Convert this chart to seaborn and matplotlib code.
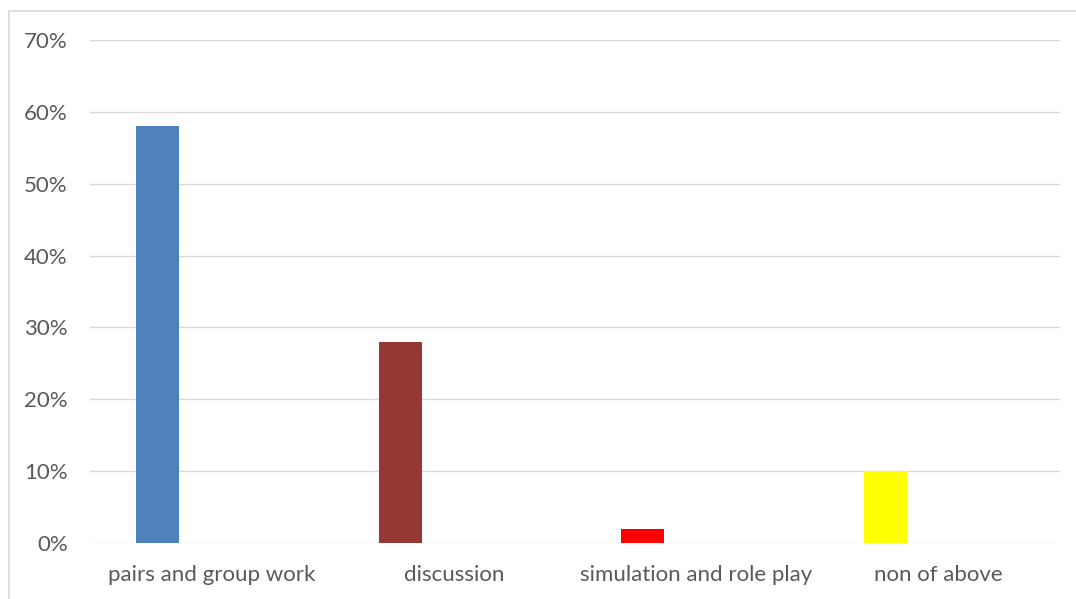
import matplotlib
matplotlib.use("Agg")
import matplotlib.pyplot as plt
import matplotlib.patches as mpatches
from matplotlib.ticker import PercentFormatter
import seaborn as sns

categories = ["pairs and group work", "discussion", "simulation and role play", "non of above"]
values = [0.58, 0.28, 0.02, 0.10]
colors = ["#4F81BD", "#953735", "#FF0000", "#FFFF00"]
yticks = [0.0, 0.1, 0.2, 0.3, 0.4, 0.5, 0.6, 0.7]

sns.set_theme(style="white")
plt.rcParams["font.family"] = ["Lato", "DejaVu Sans"]

fig = plt.figure(figsize=(10.76, 5.99), dpi=100)
ax = fig.add_axes([90 / 1076, 56 / 599, 970 / 1076, 503 / 599])

bar_w = 0.177
offset = 0.2206
sns.barplot(x=categories, y=values, hue=categories, palette=colors,
            width=bar_w, legend=False, ax=ax, saturation=1)
for p in ax.patches:
    p.set_x(p.get_x() - offset)
    p.set_linewidth(0)

ax.set_xlim(-0.5, len(categories) - 0.5)
ax.set_ylim(0, 0.7)
ax.set_yticks(yticks)
ax.yaxis.set_major_formatter(PercentFormatter(1.0, decimals=0))
ax.grid(axis="y", color="#D9D9D9", linewidth=0.95)
ax.set_axisbelow(True)
for s in ax.spines.values():
    s.set_visible(False)
ax.set_xlabel("")
ax.set_ylabel("")
ax.tick_params(axis="both", length=0, labelsize=16, labelcolor="#595959")
ax.tick_params(axis="y", pad=16)
ax.tick_params(axis="x", pad=16)

fig.patches.append(mpatches.Rectangle((9 / 1076, -0.1), 1.2, (599 - 11) / 599 + 0.1,
                                      transform=fig.transFigure, fill=False,
                                      edgecolor="#D9D9D9", linewidth=1.2))

fig.savefig("out.png", dpi=100)
